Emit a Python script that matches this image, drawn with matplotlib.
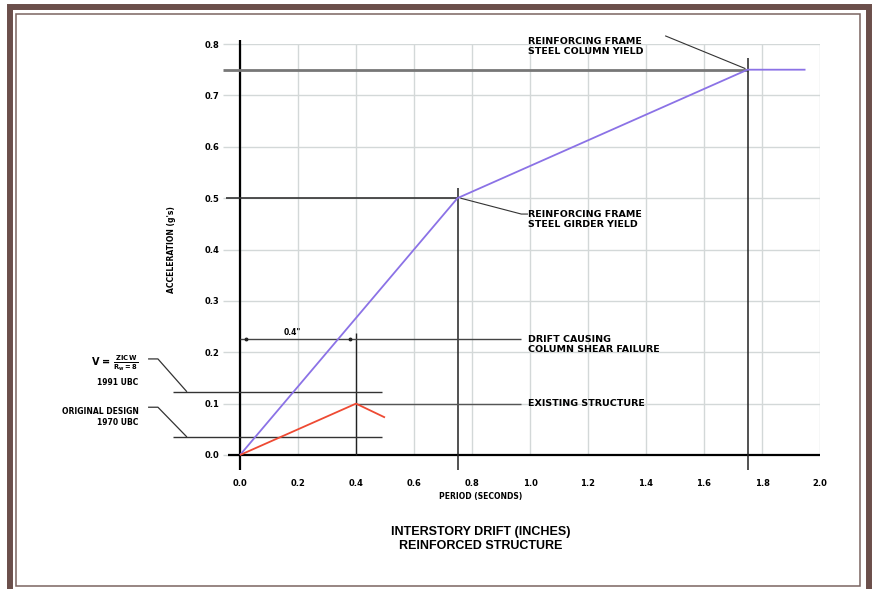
import numpy as np
import matplotlib
matplotlib.use("Agg")
import matplotlib.pyplot as plt
from matplotlib.patches import Rectangle

# curves
reinforced_x = [0.0, 0.75, 1.75, 1.95]
reinforced_y = [0.0, 0.5, 0.75, 0.75]
existing_x = [0.0, 0.4, 0.5]
existing_y = [0.0, 0.1, 0.073]

x_ticks = [0.0, 0.2, 0.4, 0.6, 0.8, 1.0, 1.2, 1.4, 1.6, 1.8, 2.0]
y_ticks = [0.0, 0.1, 0.2, 0.3, 0.4, 0.5, 0.6, 0.7, 0.8]

# reference levels
column_yield = (1.75, 0.75)
girder_yield = (0.75, 0.5)
ubc_1991 = 0.123
ubc_1970 = 0.035
shear_drift = 0.4
shear_level = 0.226
existing_peak = 0.1

W, H = 874, 589
fig = plt.figure(figsize=(W / 100, H / 100), dpi=100)
fig.patch.set_facecolor("white")

def fx(px):
    return px / W

def fy(py):
    return 1 - py / H

# border frame
brown = "#6b4f4b"
fig.add_artist(Rectangle((fx(10), fy(595)), fx(868.5) - fx(10), fy(7) - fy(595),
                         transform=fig.transFigure, fill=False, ec=brown, lw=4.3))
fig.add_artist(Rectangle((fx(16), fy(586)), fx(860) - fx(16), fy(13.5) - fy(586),
                         transform=fig.transFigure, fill=False, ec="#7a6461", lw=1.1))

ax = fig.add_axes([fx(240), fy(455), fx(820) - fx(240), fy(44) - fy(455)])
ax.set_xlim(0, 2.0)
ax.set_ylim(0, 0.8)
for s in ax.spines.values():
    s.set_visible(False)

grid_c = "#d3d8d8"
ax.set_xticks(x_ticks)
ax.set_yticks(y_ticks)
ax.set_xticklabels([f"{v:.1f}" for v in x_ticks], fontsize=6, fontweight="bold")
ax.set_yticklabels([f"{v:.1f}" for v in y_ticks], fontsize=6, fontweight="bold")
ax.tick_params(axis="x", length=0, pad=17)
ax.tick_params(axis="y", length=12, color=grid_c, width=1, pad=3)
ax.grid(True, color=grid_c, lw=1)
ax.set_axisbelow(True)

k = dict(clip_on=False, solid_capstyle="butt")
# main axes lines
ax.plot([0, 0], [-0.03, 0.807], color="black", lw=1.6, **k)
ax.plot([-0.04, 2.0], [0, 0], color="black", lw=1.6, **k)

# yield reference lines
ax.plot([-0.06, column_yield[0]], [column_yield[1]] * 2, color="#777777", lw=2.0, **k)
ax.plot([column_yield[0]] * 2, [-0.03, 0.772], color="#222222", lw=1.1, **k)
ax.plot([-0.05, girder_yield[0]], [girder_yield[1]] * 2, color="#333333", lw=1.2, **k)
ax.plot([girder_yield[0]] * 2, [-0.03, 0.52], color="#222222", lw=1.1, **k)

# drift causing shear failure
ax.plot([shear_drift] * 2, [0, 0.238], color="#222222", lw=1.0, **k)
ax.plot([0, 0.97], [shear_level] * 2, color="#444444", lw=1.0, **k)
ax.plot([0.02, shear_drift - 0.02], [shear_level] * 2, ls="none", marker="o", ms=1.8,
        color="#222222", **k)
ax.text(0.18, shear_level + 0.004, "0.4\"", fontsize=5.5, fontweight="bold",
        ha="center", va="bottom")
ax.plot([shear_drift, 0.97], [existing_peak] * 2, color="#555555", lw=1.0, **k)

# code levels
ax.plot([-0.231, 0.489], [ubc_1991] * 2, color="#333333", lw=1.0, **k)
ax.plot([-0.231, 0.489], [ubc_1970] * 2, color="#333333", lw=1.0, **k)
ax.plot([-0.317, -0.283, -0.183], [0.187, 0.187, ubc_1991], color="#333333", lw=0.9, **k)
ax.plot([-0.317, -0.283, -0.183], [0.093, 0.093, ubc_1970], color="#333333", lw=0.9, **k)

# curves
ax.plot(reinforced_x, reinforced_y, color="#8b72e6", lw=1.3, **k)
ax.plot(existing_x, existing_y, color="#ee4a33", lw=1.3, **k)

tk = dict(fontsize=6.8, fontweight="bold", ha="left", linespacing=1.15)
# column yield label + leader
ax.plot([1.466, column_yield[0] - 0.007], [0.816, column_yield[1] + 0.002],
        color="#333333", lw=0.8, **k)
ax.text(0.993, 0.796, "REINFORCING FRAME\nSTEEL COLUMN YIELD", va="center", **tk)
# girder yield label + leader
ax.plot([girder_yield[0] + 0.01, 0.97, 0.993], [girder_yield[1], 0.469, 0.469],
        color="#333333", lw=0.8, **k)
ax.text(0.993, 0.459, "REINFORCING FRAME\nSTEEL GIRDER YIELD", va="center", **tk)
ax.text(0.993, 0.215, "DRIFT CAUSING\nCOLUMN SHEAR FAILURE", va="center", **tk)
ax.text(0.993, existing_peak, "EXISTING STRUCTURE", va="center", **tk)

ax.text(-0.35, 0.198, r"V = $\mathbf{\frac{ZICW}{R_w = 8}}$", fontsize=7,
        fontweight="bold", ha="right", va="top", clip_on=False)
ax.text(-0.35, 0.141, "1991 UBC", fontsize=5.5,
        fontweight="bold", ha="right", va="center", clip_on=False)
ax.text(-0.35, 0.093, "ORIGINAL DESIGN\n1970 UBC", fontsize=5.5, fontweight="bold",
        ha="right", va="top", linespacing=1.2, clip_on=False)

fig.text(fx(172), fy(250), "ACCELERATION (g's)", rotation=90, fontsize=5.5,
         fontweight="bold", ha="center", va="center")
fig.text(fx(481), fy(496), "PERIOD (SECONDS)", fontsize=5.5, fontweight="bold",
         ha="center", va="center")
fig.text(fx(481), fy(539), "INTERSTORY DRIFT (INCHES)\nREINFORCED STRUCTURE",
         fontsize=9, fontweight="bold", family="Liberation Sans", ha="center",
         va="center", linespacing=1.2)

fig.savefig("out.png", dpi=100)
